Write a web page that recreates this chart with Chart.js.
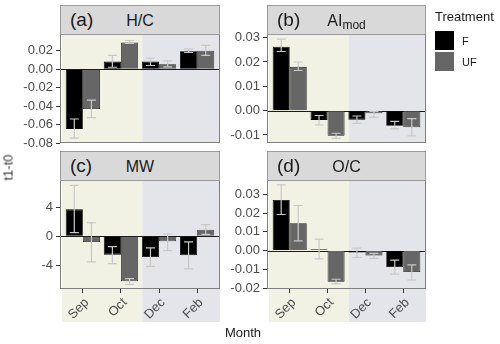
<!DOCTYPE html>
<html>
<head>
<meta charset="utf-8">
<script src="https://cdn.jsdelivr.net/npm/chart.js@4.4.0/dist/chart.umd.min.js"></script>
<style>
body { margin: 0; background: #fff; font-family: "Liberation Sans", Arial, sans-serif; }
#wrap { position: relative; width: 500px; height: 344px; overflow: hidden; background: #fff; }
canvas { position: absolute; left: 0; top: 0; }
.strip { position: absolute; box-sizing: border-box; height: 30px; background: #d9d9d9; border: 1px solid #9a9a9a; color: #1a1a1a; white-space: nowrap; }
.strip .tag { position: absolute; left: 9px; top: 3px; font-size: 19px; line-height: 22px; }
.strip .name { position: absolute; left: 0; right: 0; top: 5px; text-align: center; font-size: 16px; line-height: 20px; }
.strip sub { font-size: 12px; vertical-align: -3px; }
.txt { position: absolute; color: #1a1a1a; white-space: nowrap; }
.key { position: absolute; left: 435px; width: 19px; height: 19px; }
</style>
</head>
<body>
<div id="wrap">
  <canvas id="chartA" width="500" height="344"></canvas>
  <canvas id="chartB" width="500" height="344"></canvas>
  <canvas id="chartC" width="500" height="344"></canvas>
  <canvas id="chartD" width="500" height="344"></canvas>

  <div class="strip" style="left:60px;top:5px;width:160px;"><span class="tag">(a)</span><span class="name">H/C</span></div>
  <div class="strip" style="left:267px;top:5px;width:159px;"><span class="tag">(b)</span><span class="name">AI<sub>mod</sub></span></div>
  <div class="strip" style="left:60px;top:151px;width:160px;"><span class="tag">(c)</span><span class="name">MW</span></div>
  <div class="strip" style="left:267px;top:151px;width:159px;"><span class="tag">(d)</span><span class="name">O/C</span></div>

  <div class="txt" style="left:435px;top:9px;font-size:13px;">Treatment</div>
  <div class="key" style="top:31px;background:#000;"></div>
  <div class="key" style="top:52px;background:#666;"></div>
  <div class="txt" style="left:462px;top:35px;font-size:11px;">F</div>
  <div class="txt" style="left:462px;top:56px;font-size:11px;">UF</div>

  <div class="txt" style="left:-10px;top:160px;font-size:13px;color:#333;transform:rotate(-90deg);width:36px;text-align:center;">t1-t0</div>
  <div class="txt" style="left:223px;top:325px;font-size:13px;width:40px;text-align:center;">Month</div>
</div>

<script>
// sampling months shared by all panels
const months = ['Sep', 'Oct', 'Dec', 'Feb'];

// (a) H/C
const hcF = [-0.0645, 0.0082, 0.0082, 0.0193];
const hcFLo = [-0.0745, 0.0021, 0.0040, 0.0180];
const hcFHi = [-0.0538, 0.0150, 0.0118, 0.0217];
const hcUF = [-0.0431, 0.0289, 0.0054, 0.0200];
const hcUFLo = [-0.0524, 0.0278, 0.0025, 0.0150];
const hcUFHi = [-0.0335, 0.0310, 0.0089, 0.0257];
const hcTicks = [-0.08, -0.06, -0.04, -0.02, 0, 0.02];

// (b) AI mod
const aiF = [0.0263, -0.0038, -0.0037, -0.0062];
const aiFLo = [0.0243, -0.0059, -0.0052, -0.0075];
const aiFHi = [0.0294, -0.0020, -0.0022, -0.0044];
const aiUF = [0.0180, -0.0103, -0.0011, -0.0068];
const aiUFLo = [0.0165, -0.0114, -0.0028, -0.0104];
const aiUFHi = [0.0200, -0.0093, -0.0003, -0.0033];
const aiTicks = [-0.01, 0, 0.01, 0.02, 0.03];

// (c) MW
const mwF = [3.72, -2.53, -2.85, -2.62];
const mwFLo = [0.5, -3.77, -4.14, -4.5];
const mwFHi = [7.03, -1.42, -1.6, -0.78];
const mwUF = [-0.78, -6.2, -0.69, 0.92];
const mwUFLo = [-3.54, -6.62, -1.97, 0.28];
const mwUFHi = [1.89, -5.84, 0.32, 1.6];
const mwTicks = [-4, 0, 4];

// (d) O/C
const ocF = [0.027, 0.0007, -0.0011, -0.0088];
const ocFLo = [0.0192, -0.0044, -0.0037, -0.0126];
const ocFHi = [0.035, 0.0061, 0.0013, -0.0051];
const ocUF = [0.0146, -0.0167, -0.0027, -0.0115];
const ocUFLo = [0.0052, -0.0178, -0.0042, -0.0158];
const ocUFHi = [0.024, -0.0153, -0.0015, -0.0076];
const ocTicks = [-0.02, -0.01, 0, 0.01, 0.02, 0.03];

Chart.defaults.font.family = "'Liberation Sans', Arial, sans-serif";
Chart.defaults.color = '#4d4d4d';

// shaded season blocks, zero line and panel frame
const panelDeco = {
    id: 'panelDeco',
    beforeDraw(chart, args, opts) {
        const ctx = chart.ctx, area = chart.chartArea, x = chart.scales.x;
        const split = x.getPixelForValue(2.56);
        const start = x.getPixelForValue(0.45);
        ctx.save();
        ctx.fillStyle = '#f1f2e4';
        ctx.fillRect(start, area.top, split - start, opts.shadeBottom - area.top);
        ctx.fillStyle = '#e4e5eb';
        ctx.fillRect(split, area.top, area.right - split, opts.shadeBottom - area.top);
        ctx.restore();
    },
    beforeDatasetsDraw(chart) {
        const ctx = chart.ctx, area = chart.chartArea;
        const y0 = Math.round(chart.scales.y.getPixelForValue(0)) + 0.5;
        ctx.save();
        ctx.strokeStyle = '#1a1a1a';
        ctx.lineWidth = 1;
        ctx.beginPath();
        ctx.moveTo(area.left, y0);
        ctx.lineTo(area.right, y0);
        ctx.stroke();
        ctx.restore();
    },
    afterDraw(chart) {
        const ctx = chart.ctx, area = chart.chartArea;
        ctx.save();
        ctx.strokeStyle = '#7f7f7f';
        ctx.lineWidth = 1;
        ctx.strokeRect(Math.round(area.left) + 0.5, Math.round(area.top) + 0.5,
            Math.round(area.right - area.left) - 1, Math.round(area.bottom - area.top) - 1);
        ctx.restore();
    }
};

// standard error whiskers from lo/hi arrays
const errorBars = {
    id: 'errorBars',
    afterDatasetsDraw(chart) {
        const ctx = chart.ctx, y = chart.scales.y;
        ctx.save();
        ctx.strokeStyle = '#c8c8c8';
        ctx.lineWidth = 1.2;
        chart.data.datasets.forEach((ds, di) => {
            chart.getDatasetMeta(di).data.forEach((bar, i) => {
                const top = y.getPixelForValue(ds.hi[i]);
                const bot = y.getPixelForValue(ds.lo[i]);
                ctx.beginPath();
                ctx.moveTo(bar.x, top); ctx.lineTo(bar.x, bot);
                ctx.moveTo(bar.x - 4.5, top); ctx.lineTo(bar.x + 4.5, top);
                ctx.moveTo(bar.x - 4.5, bot); ctx.lineTo(bar.x + 4.5, bot);
                ctx.stroke();
            });
        });
        ctx.restore();
    }
};

function series(vals) {
    return vals.map((v, i) => ({ x: i + 1, y: v }));
}

function makePanel(id, p) {
    const xH = 34;
    return new Chart(document.getElementById(id), {
        type: 'bar',
        data: {
            datasets: [
                { label: 'F', data: series(p.F), lo: p.FLo, hi: p.FHi, backgroundColor: '#000000',
                  borderColor: '#000000', borderWidth: 0.8, categoryPercentage: 0.9, barPercentage: 1 },
                { label: 'UF', data: series(p.UF), lo: p.UFLo, hi: p.UFHi, backgroundColor: '#666666',
                  borderColor: '#222222', borderWidth: 0.8, categoryPercentage: 0.9, barPercentage: 1 }
            ]
        },
        options: {
            responsive: false,
            animation: false,
            devicePixelRatio: 1,
            layout: {
                padding: {
                    left: p.left - p.yW,
                    right: 500 - p.right,
                    top: p.top,
                    bottom: p.showX ? 344 - p.bottom - xH : 344 - p.bottom
                }
            },
            plugins: {
                legend: { display: false },
                tooltip: { enabled: false },
                panelDeco: { shadeBottom: p.shadeBottom }
            },
            scales: {
                x: {
                    type: 'linear',
                    display: p.showX,
                    offset: false,
                    min: 0.4,
                    max: 4.6,
                    afterBuildTicks: s => { s.ticks = months.map((m, i) => ({ value: i + 1 })); },
                    afterFit: s => { if (p.showX) s.height = xH; },
                    grid: { offset: false, drawOnChartArea: false, drawTicks: true, tickLength: 4, color: '#333333' },
                    border: { display: false },
                    ticks: {
                        autoSkip: false,
                        callback: v => months[v - 1],
                        minRotation: 45, maxRotation: 45,
                        padding: 2,
                        labelOffset: 4,
                        font: { size: 13 },
                        color: '#4d4d4d'
                    }
                },
                y: {
                    type: 'linear',
                    min: p.yMin,
                    max: p.yMax,
                    afterBuildTicks: s => { s.ticks = p.ticks.map(v => ({ value: v })); },
                    afterFit: s => { s.width = p.yW; },
                    grid: { drawOnChartArea: false, drawTicks: true, tickLength: 4, color: '#333333' },
                    border: { display: false },
                    ticks: {
                        autoSkip: false,
                        callback: v => v.toFixed(p.dec),
                        padding: 3,
                        font: { size: 13 },
                        color: '#4d4d4d'
                    }
                }
            }
        },
        plugins: [panelDeco, errorBars]
    });
}

makePanel('chartA', { F: hcF, FLo: hcFLo, FHi: hcFHi, UF: hcUF, UFLo: hcUFLo, UFHi: hcUFHi,
    yMin: -0.0797, yMax: 0.038, ticks: hcTicks, dec: 2,
    left: 60, right: 220, top: 34, bottom: 143, yW: 60, showX: false, shadeBottom: 143 });

makePanel('chartB', { F: aiF, FLo: aiFLo, FHi: aiFHi, UF: aiUF, UFLo: aiUFLo, UFHi: aiUFHi,
    yMin: -0.0133, yMax: 0.0315, ticks: aiTicks, dec: 2,
    left: 267, right: 426, top: 34, bottom: 143, yW: 47, showX: false, shadeBottom: 143 });

makePanel('chartC', { F: mwF, FLo: mwFLo, FHi: mwFHi, UF: mwUF, UFLo: mwUFLo, UFHi: mwUFHi,
    yMin: -7.27, yMax: 7.77, ticks: mwTicks, dec: 0,
    left: 60, right: 220, top: 180, bottom: 289, yW: 60, showX: true, shadeBottom: 322 });

makePanel('chartD', { F: ocF, FLo: ocFLo, FHi: ocFHi, UF: ocUF, UFLo: ocUFLo, UFHi: ocUFHi,
    yMin: -0.0205, yMax: 0.0376, ticks: ocTicks, dec: 2,
    left: 267, right: 426, top: 180, bottom: 289, yW: 47, showX: true, shadeBottom: 322 });
</script>
</body>
</html>
